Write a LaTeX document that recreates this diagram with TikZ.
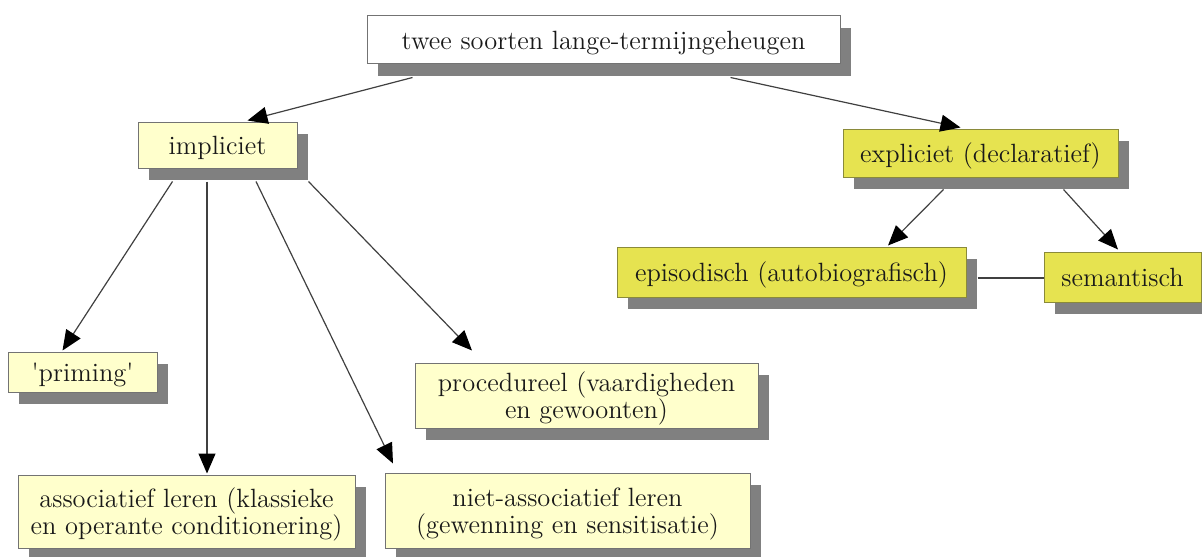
\documentclass[tikz,border=0pt]{standalone}
\usepackage{fontspec}
\usetikzlibrary{arrows.meta,shadows}
\definecolor{paleyellow}{HTML}{FFFFCC}
\definecolor{darkyellow}{HTML}{E6E350}
\definecolor{olive}{HTML}{8A8A3A}
\tikzset{
  box/.style={rectangle, draw=black!55, line width=0.5pt, align=center,
    inner sep=0pt, text=black!90, text depth=0pt,
    font=\fontsize{13.2}{13.5}\selectfont,
    drop shadow={shadow xshift=5.5pt, shadow yshift=-6pt, fill=black!50, opacity=1}},
  plain/.style={box, fill=white},
  pale/.style={box, fill=paleyellow},
  bright/.style={box, fill=darkyellow, draw=olive},
  arr/.style={draw=black!75, line width=0.6pt, -{Triangle[length=10pt,width=8.5pt,color=black]}},
  link/.style={draw=black!75, line width=0.6pt}
}
\begin{document}
\begin{tikzpicture}[x=0.5pt, y=-0.5pt]
\useasboundingbox (0,0) rectangle (1202,556);

% concept boxes
\node[plain,  minimum width=236.5pt, minimum height=24pt]   (top)   at (603.5,40)  {twee soorten lange-termijngeheugen};
\node[pale,   minimum width=79.5pt,  minimum height=23pt]   (impl)  at (217.5,145) {impliciet};
\node[bright, minimum width=137.5pt, minimum height=24pt]   (expl)  at (980.5,153) {expliciet (declaratief)};
\node[bright, minimum width=174.5pt, minimum height=25pt]   (epis)  at (791.5,272) {episodisch (autobiografisch)};
\node[bright, minimum width=78.5pt,  minimum height=25pt]   (sem)   at (1122.5,277) {semantisch};
\node[pale,   minimum width=74.5pt,  minimum height=20pt]   (prim)  at (82.5,372)  {\textquotesingle priming\textquotesingle};
\node[pale,   minimum width=171.5pt, minimum height=32.5pt] (proc)  at (586.5,395.5) {procedureel (vaardigheden\\en gewoonten)};
\node[pale,   minimum width=168.5pt, minimum height=36.5pt] (assoc) at (186.5,511.5) {associatief leren (klassieke\\en operante conditionering)};
\node[pale,   minimum width=182.5pt, minimum height=37.5pt] (niet)  at (567.5,510.5) {niet-associatief leren\\(gewenning en sensitisatie)};

% connectors
\draw[arr] ([shift={(46,13)}]top.south west)   -- ([shift={(30,-1)}]impl.north);
\draw[arr] ([shift={(-110,13)}]top.south east) -- ([shift={(-20,-1)}]expl.north);
\draw[arr] ([shift={(35,13)}]impl.south west)  -- ([shift={(-20,-1)}]prim.north);
\draw[arr] ([shift={(-10.5,13)}]impl.south)    -- ([shift={(20.5,-1)}]assoc.north);
\draw[arr] ([shift={(38.5,13)}]impl.south)     -- ([shift={(-174.5,-9)}]niet.north);
\draw[arr] ([shift={(11,13)}]impl.south east)  -- ([shift={(-114.5,-12)}]proc.north);
\draw[arr] ([shift={(101,12)}]expl.south west) -- ([shift={(96.5,-1)}]epis.north);
\draw[arr] ([shift={(-55,12)}]expl.south east) -- ([shift={(-4.5,-2)}]sem.north);
\draw[link] ([shift={(11,6)}]epis.east) -- ([shift={(0,1)}]sem.west);
\end{tikzpicture}
\end{document}
